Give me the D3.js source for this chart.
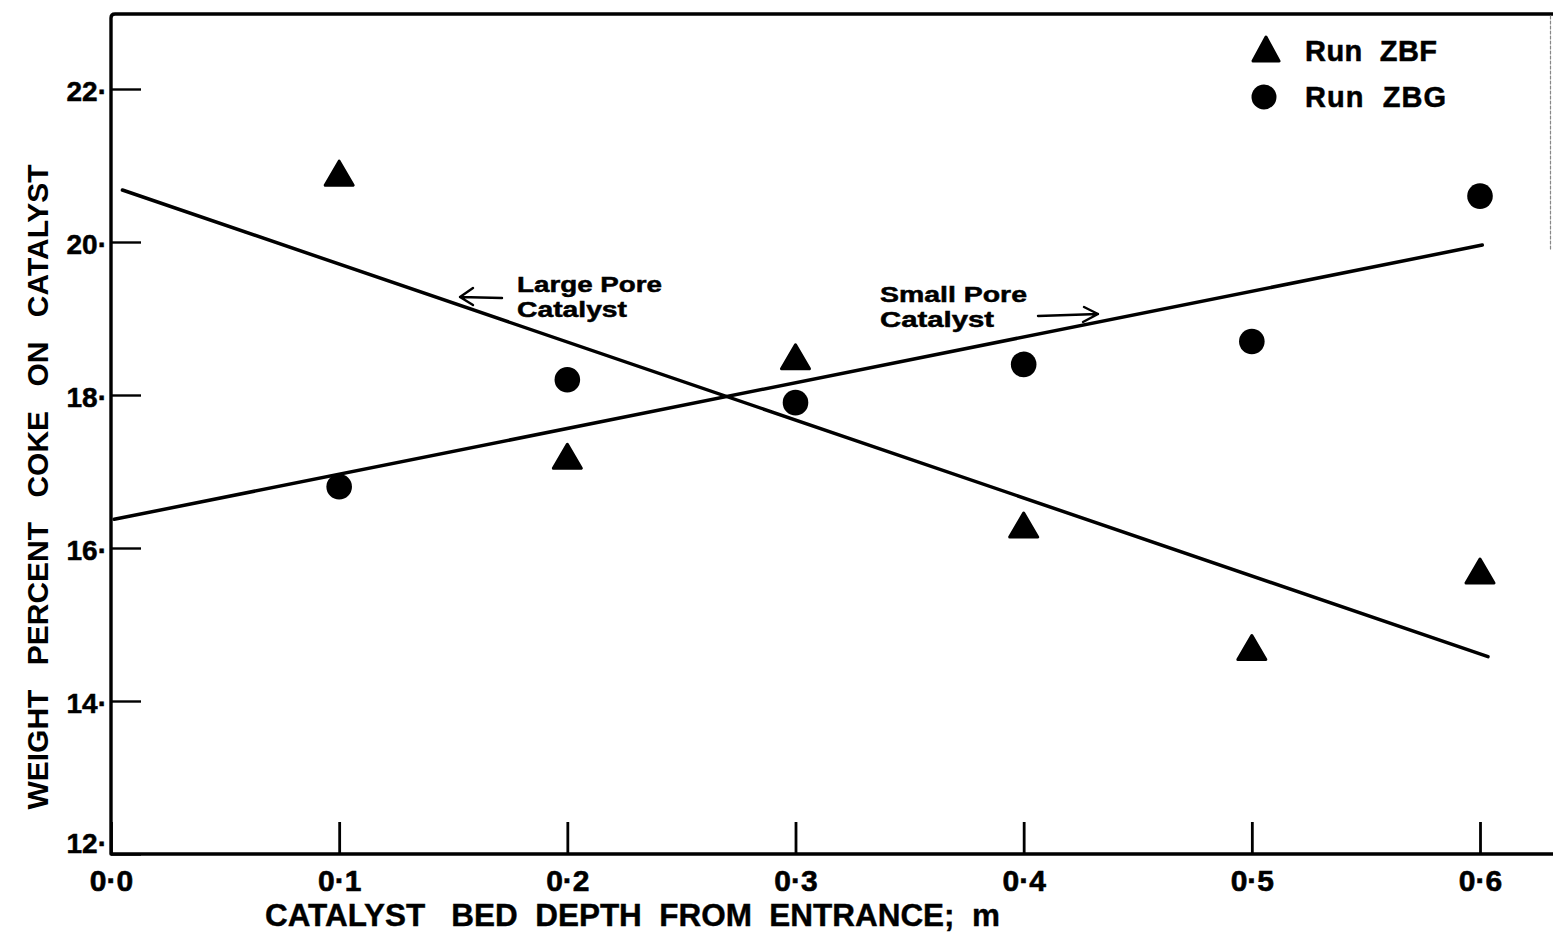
<!DOCTYPE html>
<html>
<head>
<meta charset="utf-8">
<script src="https://cdn.jsdelivr.net/npm/d3@7"></script>
<style>
  html, body { margin: 0; padding: 0; background: #fff; }
  svg { display: block; }
  text { font-family: "Liberation Sans", Arial, Helvetica, sans-serif; fill: #000; }
</style>
</head>
<body>
<svg id="chart" width="1553" height="940"></svg>
<script>
// Bed depth (m) at which catalyst samples were taken
const depths = [0.1, 0.2, 0.3, 0.4, 0.5, 0.6];
// Weight percent coke on catalyst
const runZBF = [20.9, 17.2, 18.5, 16.3, 14.7, 15.7];
const runZBG = [16.8, 18.2, 17.9, 18.4, 18.7, 20.6];
// Straight-line fits (end points: depth, wt% coke)
const largePoreFit = [[0.005, 20.68], [0.6035, 14.58]];
const smallPoreFit = [[0.0014, 16.375], [0.601, 19.96]];
// Axis ticks
const xTicks = [0, 0.1, 0.2, 0.3, 0.4, 0.5, 0.6];
const xTickLabels = ["0·0", "0·1", "0·2", "0·3", "0·4", "0·5", "0·6"];
const yTicks = [12, 14, 16, 18, 20, 22];
const yTickLabels = ["12·", "14·", "16·", "18·", "20·", "22·"];
const seriesNames = ["Run  ZBF", "Run  ZBG"];

const svg = d3.select("#chart");
const W = 1553, H = 940;

const x = d3.scaleLinear().domain([0, 0.6]).range([111, 1480]);
const y = d3.scaleLinear().domain([12, 22]).range([854, 89]);

const plotRight = W;
const plotTop = 14;

// Frame: left axis, bottom axis, top border
const frame = svg.append("g").attr("fill", "none").attr("stroke", "#000")
  .attr("stroke-linecap", "round").attr("stroke-linejoin", "round");
frame.append("path")
  .attr("d", `M${plotRight},${plotTop} L${x(0) + 4},${plotTop} Q${x(0)},${plotTop} ${x(0)},${plotTop + 4} L${x(0)},${y(12)} L${plotRight},${y(12)}`)
  .attr("stroke-width", 3.4);
// faint right edge of the frame
frame.append("line")
  .attr("x1", 1550.5).attr("x2", 1550.5).attr("y1", plotTop + 2).attr("y2", 250)
  .attr("stroke", "#888").attr("stroke-width", 1.2).attr("stroke-dasharray", "3,2");

// X axis ticks (pointing up into the plot) and labels
const xAxis = d3.axisBottom(x)
  .tickValues(xTicks)
  .tickSizeInner(-32).tickSizeOuter(0).tickPadding(16)
  .tickFormat((d, i) => xTickLabels[i]);
const gx = svg.append("g").attr("transform", `translate(0,${y(12)})`).call(xAxis);
gx.select(".domain").remove();
gx.selectAll(".tick line").attr("stroke", "#000").attr("stroke-width", 2.8);
gx.selectAll(".tick text")
  .attr("font-size", 30).attr("font-weight", "bold")
  .attr("stroke", "#000").attr("stroke-width", 0.6)
  .attr("font-family", "'Liberation Sans', Arial, sans-serif");

// Y axis ticks (pointing right into the plot) and labels
const yAxis = d3.axisLeft(y)
  .tickValues(yTicks)
  .tickSizeInner(-30).tickSizeOuter(0).tickPadding(4)
  .tickFormat((d, i) => yTickLabels[i]);
const gy = svg.append("g").attr("transform", `translate(${x(0)},0)`).call(yAxis);
gy.select(".domain").remove();
gy.selectAll(".tick line").attr("stroke", "#000").attr("stroke-width", 2.4);
gy.selectAll(".tick text")
  .attr("font-size", 28).attr("font-weight", "bold")
  // the bottom label sits a little higher, clear of the x labels
  .attr("dy", d => d === 12 ? "-0.05em" : "0.4em")
  .attr("stroke", "#000").attr("stroke-width", 0.5)
  .attr("font-family", "'Liberation Sans', Arial, sans-serif");

// Axis titles
svg.append("text")
  .attr("transform", "translate(48,487) rotate(-90)")
  .attr("text-anchor", "middle")
  .attr("font-size", 30).attr("font-weight", "bold")
  .attr("word-spacing", 16)
  .text("WEIGHT PERCENT COKE ON CATALYST");

svg.append("text")
  .attr("x", 265).attr("y", 926)
  .attr("font-size", 31).attr("font-weight", "bold")
  .attr("stroke", "#000").attr("stroke-width", 0.4)
  .attr("textLength", 735).attr("lengthAdjust", "spacingAndGlyphs")
  .attr("xml:space", "preserve")
  .text("CATALYST   BED  DEPTH  FROM  ENTRANCE;  m");

// Fitted lines
const line = d3.line().x(d => x(d[0])).y(d => y(d[1]));
svg.append("g").attr("fill", "none").attr("stroke", "#000")
  .attr("stroke-width", 3.5).attr("stroke-linecap", "round")
  .selectAll("path").data([largePoreFit, smallPoreFit]).join("path")
  .attr("d", line);

// Marker shapes
const triPath = (cx, cy, w, h) =>
  `M${cx - w / 2},${cy + h / 2} L${cx},${cy - h / 2} L${cx + w / 2},${cy + h / 2} Z`;

svg.append("g").selectAll("path").data(depths.map((d, i) => [d, runZBF[i]])).join("path")
  .attr("d", d => triPath(x(d[0]), y(d[1]), 28, 24))
  .attr("fill", "#000").attr("stroke", "#000").attr("stroke-width", 3)
  .attr("stroke-linejoin", "round");

svg.append("g").selectAll("circle").data(depths.map((d, i) => [d, runZBG[i]])).join("circle")
  .attr("cx", d => x(d[0])).attr("cy", d => y(d[1])).attr("r", 12.8)
  .attr("fill", "#000");

// Legend
const legend = svg.append("g");
legend.append("path").attr("d", triPath(1266, 49, 26, 24))
  .attr("fill", "#000").attr("stroke", "#000").attr("stroke-width", 3).attr("stroke-linejoin", "round");
legend.append("circle").attr("cx", 1264).attr("cy", 97).attr("r", 12.5).attr("fill", "#000");
legend.selectAll("text").data(seriesNames).join("text")
  .attr("x", 1305).attr("y", (d, i) => 61 + i * 46)
  .attr("font-size", 29).attr("font-weight", "bold")
  .attr("stroke", "#000").attr("stroke-width", 0.5)
  .attr("xml:space", "preserve")
  .attr("textLength", (d, i) => i === 0 ? 132 : 141).attr("lengthAdjust", "spacing")
  .text(d => d);

// Annotations
const ann = svg.append("g").attr("font-weight", "bold").attr("font-size", 22)
  .attr("stroke", "#000").attr("stroke-width", 0.5);
ann.append("text").attr("x", 517).attr("y", 292).attr("textLength", 145).attr("lengthAdjust", "spacingAndGlyphs").text("Large Pore");
ann.append("text").attr("x", 517).attr("y", 317).attr("textLength", 110).attr("lengthAdjust", "spacingAndGlyphs").text("Catalyst");
ann.append("text").attr("x", 880).attr("y", 302).attr("textLength", 147).attr("lengthAdjust", "spacingAndGlyphs").text("Small Pore");
ann.append("text").attr("x", 880).attr("y", 327).attr("textLength", 114).attr("lengthAdjust", "spacingAndGlyphs").text("Catalyst");

const arrows = svg.append("g").attr("fill", "none").attr("stroke", "#000")
  .attr("stroke-width", 2.4).attr("stroke-linecap", "round").attr("stroke-linejoin", "round");
arrows.append("path").attr("d", "M502,298 L460,297 M473,288 L460,297 L473,305");
arrows.append("path").attr("d", "M1038,316 L1098,314 M1084,307 L1098,314 L1083,322");
</script>
</body>
</html>
